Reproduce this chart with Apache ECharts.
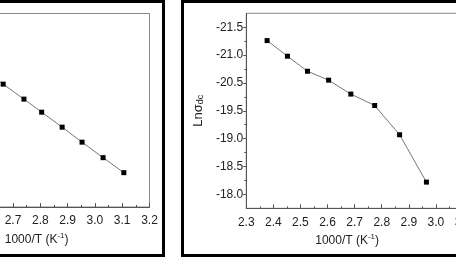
<!DOCTYPE html>
<html><head><meta charset="utf-8">
<script src="https://cdn.jsdelivr.net/npm/echarts@6/dist/echarts.min.js"></script>
<style>
html,body{margin:0;padding:0;background:#fff;width:456px;height:257px;overflow:hidden;position:relative}
.panel{position:absolute;box-sizing:border-box;border:3px solid #000;top:0;height:257px;background:#fff}
#pl{left:-200px;width:365px}
#pr{left:181px;width:305px}
.c{width:100%;height:100%}
</style></head><body>
<div class="panel" id="pl"><div class="c" id="cl"></div></div>
<div class="panel" id="pr"><div class="c" id="cr"></div></div>
<script>
// ---- left panel (cropped) ----
const leftX = [2.590, 2.664, 2.740, 2.805, 2.880, 2.953, 3.030, 3.106];
const leftY = [-22.15, -22.46, -22.77, -23.04, -23.35, -23.66, -23.98, -24.29];
// ---- right panel ----
const rightX = [2.377, 2.452, 2.526, 2.604, 2.686, 2.774, 2.866, 2.965];
const rightY = [-21.26, -20.98, -20.71, -20.55, -20.10, -19.69, -19.07, -18.22];
const rightYTickValues = [-21.5, -21.0, -20.5, -19.5, -19.0, -18.5, -18.0];
const rightYTickLabels = ['-21.5', '-21.0', '-20.5', '-19.5', '-19.0', '-18.5', '-18.0'];
const xTitle = '1000/T (K{sup|-1})';
const yTitle = 'Ln\u03c3{sub|dc}';

// the printed y scale is evenly spaced per tick: map reading -> tick position
function toTickPos(v) {
  const t = rightYTickValues;
  for (let i = 0; i < t.length - 1; i++) {
    if (v <= t[i + 1]) return i + (v - t[i]) / (t[i + 1] - t[i]);
  }
  return t.length - 1;
}

const FONT = 'Liberation Sans, Arial, sans-serif';
const TXT = '#222';
const AX = '#555';
const richName = {
  sup: {fontSize: 8, fontFamily: FONT, color: TXT, verticalAlign: 'bottom', padding: [0, 0, 7, 0]},
  sub: {fontSize: 9, fontFamily: FONT, color: TXT, verticalAlign: 'bottom', lineHeight: 9}
};
function xAxisCfg(min, max, padding, gap) {
  return {
    type: 'value', min: min, max: max, interval: 0.1,
    name: xTitle, nameLocation: 'middle', nameGap: gap,
    nameTextStyle: {fontSize: 12, fontFamily: FONT, color: TXT, padding: padding, rich: richName},
    axisLine: {show: true, onZero: false, lineStyle: {color: AX, width: 1}},
    axisTick: {show: true, inside: true, length: 4, lineStyle: {color: AX}},
    minorTick: {show: true, splitNumber: 2, length: 2, lineStyle: {color: AX}},
    axisLabel: {fontSize: 12, fontFamily: FONT, color: TXT, margin: 8, formatter: v => v.toFixed(1), showMinLabel: true, showMaxLabel: true},
    splitLine: {show: false}
  };
}
const series = (data) => ({
  type: 'line', data: data, symbol: 'rect', symbolSize: 5,
  itemStyle: {color: '#000'}, lineStyle: {color: '#777', width: 1}, z: 3
});

const cl = echarts.init(document.getElementById('cl'), null, {renderer: 'canvas'});
cl.setOption({
  animation: false,
  grid: {left: 100.8, right: 12.5, top: 10.5, bottom: 47, show: true, borderColor: '#888', borderWidth: 1},
  xAxis: xAxisCfg(2.3, 3.2, [0, 0, 0, 20], 13),
  yAxis: {type: 'value', min: -25, max: -21, interval: 1,
    axisLine: {show: true, onZero: false, lineStyle: {color: AX}}, axisTick: {show: false},
    axisLabel: {show: false}, splitLine: {show: false}},
  series: [series(leftX.map((x, i) => [x, leftY[i]]))]
});

const cr = echarts.init(document.getElementById('cr'), null, {renderer: 'canvas'});
const idx = rightYTickValues.map((v, i) => i);
const half = idx.slice(0, -1).map(i => i + 0.5);
cr.setOption({
  animation: false,
  grid: {left: 55, right: 20, top: 10.3, bottom: 45.7, show: true, borderColor: '#888', borderWidth: 1},
  xAxis: xAxisCfg(2.3, 3.1, [0, 15, 0, 0], 18),
  yAxis: [{
    type: 'value', inverse: true, min: -0.5, max: 6.5,
    name: yTitle, nameLocation: 'middle', nameGap: 38, nameRotate: 90,
    nameTextStyle: {fontSize: 13, fontFamily: FONT, color: TXT, rich: richName},
    axisLine: {show: true, onZero: false, lineStyle: {color: AX, width: 1}},
    axisTick: {show: true, inside: false, length: 3, customValues: idx, lineStyle: {color: AX}},
    axisLabel: {fontSize: 12, fontFamily: FONT, color: TXT, margin: 3, customValues: idx,
      formatter: v => rightYTickLabels[Math.round(v)]},
    splitLine: {show: false}
  }, {
    type: 'value', inverse: true, min: -0.5, max: 6.5, position: 'left',
    axisLine: {show: false, onZero: false}, axisLabel: {show: false}, splitLine: {show: false},
    axisTick: {show: true, inside: false, length: 2, customValues: half, lineStyle: {color: AX}}
  }],
  series: [series(rightX.map((x, i) => [x, toTickPos(rightY[i])]))]
});
</script>
</body></html>
